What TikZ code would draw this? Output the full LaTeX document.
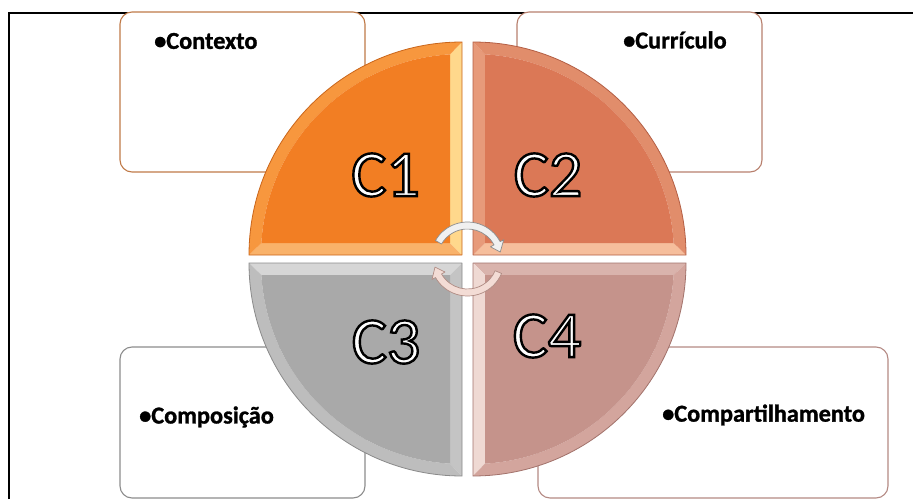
\documentclass[tikz,border=0pt]{standalone}
\usepackage{fontspec}
\setmainfont{Carlito}
\newfontfamily\heavyfont[FakeBold=1.2]{Carlito Bold}
\newcommand\outl[1]{\special{pdf:literal direct 2 Tr 0 0 0 RG 2.4 w}#1\special{pdf:literal direct 0 Tr}}
\definecolor{cAh}{HTML}{F9B26A}\definecolor{cAv}{HTML}{FFD88C}\definecolor{cAc}{HTML}{F7973E}\definecolor{cAm}{HTML}{F27E23}\definecolor{cAo}{HTML}{C9651A}
\definecolor{cBh}{HTML}{F6BE9C}\definecolor{cBv}{HTML}{E79A7A}\definecolor{cBc}{HTML}{E18D6B}\definecolor{cBm}{HTML}{DB7856}\definecolor{cBo}{HTML}{B35E44}
\definecolor{cCh}{HTML}{D6D6D6}\definecolor{cCv}{HTML}{C4C4C4}\definecolor{cCc}{HTML}{BDBDBD}\definecolor{cCm}{HTML}{A9A9A9}\definecolor{cCo}{HTML}{8A8A8A}
\definecolor{cDh}{HTML}{D9B3AC}\definecolor{cDv}{HTML}{EFD9D3}\definecolor{cDc}{HTML}{D3A59D}\definecolor{cDm}{HTML}{C5938B}\definecolor{cDo}{HTML}{A2726B}
\definecolor{bxA}{HTML}{C07A48}\definecolor{bxB}{HTML}{B8806E}\definecolor{bxC}{HTML}{8C8C8C}\definecolor{bxD}{HTML}{B48A84}
\def\R{213}\def\T{12}\def\Ri{201}\def\S{200.64}\def\A{3.42}
\newcommand\quadr[6]{%
 \begin{scope}[#1]
  \fill[#2] (-\R,0) -- (0,0) -- (-\T,\T) -- (-\S,\T) -- cycle;
  \fill[#3] (0,0) -- (0,\R) -- (-\T,\S) -- (-\T,\T) -- cycle;
  \fill[#4] (-\R,0) arc[start angle=180,end angle=90,radius=\R] -- (-\T,\S) arc[start angle=90+\A,end angle=180-\A,radius=\Ri] -- cycle;
  \fill[#5] (-\T,\T) -- (-\T,\S) arc[start angle=90+\A,end angle=180-\A,radius=\Ri] -- cycle;
  \draw[#6,line width=0.8pt,line join=round] (-\R,0) -- (0,0) -- (0,\R) arc[start angle=90,end angle=180,radius=\R] -- cycle;
 \end{scope}}
\tikzset{
 tbox/.style={rounded corners=12pt,fill=white,line width=1.1pt,inner sep=0pt},
 blabel/.style={anchor=west,inner sep=0pt,font=\heavyfont\fontsize{24.3}{27}\selectfont},
 clabel/.style={inner sep=0pt,text=white,font=\fontsize{66}{70}\selectfont},
 cyc/.style={line width=0.7pt,line join=round}
}
\begin{document}
\begin{tikzpicture}[x=1pt,y=1pt]
\useasboundingbox (0,0) rectangle (913,499);
% frame
\draw[line width=2pt] (9,0) -- (9,486) -- (913,486);
% boxes
\node[tbox,draw=bxA,minimum width=245pt,minimum height=160pt] (bctx) at (242.5,407) {};
\node[tbox,draw=bxB,minimum width=245pt,minimum height=160pt] (bcur) at (639.5,407) {};
\node[tbox,draw=bxC,minimum width=245pt,minimum height=151pt] (bcom) at (242.5,76.5) {};
\node[tbox,draw=bxD,minimum width=350pt,minimum height=151pt] (bcpt) at (713,76.5) {};
\node[blabel] (tctx) at (154,458) {•Contexto};
\node[blabel] (tcur) at (623,459) {•Currículo};
\node[blabel] (tcom) at (139,82) {•Composição};
\node[blabel] (tcpt) at (662,84) {•Compartilhamento};
% quadrants
\quadr{shift={(462,244)}}{cAh}{cAv}{cAc}{cAm}{cAo}
\quadr{shift={(473,244)},xscale=-1}{cBh}{cBv}{cBc}{cBm}{cBo}
\quadr{shift={(462,236)},yscale=-1}{cCh}{cCv}{cCc}{cCm}{cCo}
\quadr{shift={(473,236)},xscale=-1,yscale=-1}{cDh}{cDv}{cDc}{cDm}{cDo}
\node[clabel] (c1) at (385.5,324) {\outl{C1}};
\node[clabel] (c2) at (548,324) {\outl{C2}};
\node[clabel] (c3) at (386,157) {\outl{C3}};
\node[clabel] (c4) at (547,163) {\outl{C4}};
% cycle arrows
\begin{scope}[shift={(467.5,240)}]
\filldraw[cyc,fill=black!6,draw=black!45] (150:37) arc[start angle=150,end angle=28,radius=37] -- (28:41) -- (12:33.5) -- (28:26) -- (28:30) arc[start angle=28,end angle=150,radius=30] -- cycle;
\filldraw[cyc,fill={rgb,255:red,243;green,220;blue,213},draw={rgb,255:red,176;green,140;blue,132}] (-23:37) arc[start angle=-23,end angle=-150,radius=37] -- (-150:41) -- (-166:33.5) -- (-150:26) -- (-150:30) arc[start angle=-150,end angle=-23,radius=30] -- cycle;
\end{scope}
\end{tikzpicture}
\end{document}
